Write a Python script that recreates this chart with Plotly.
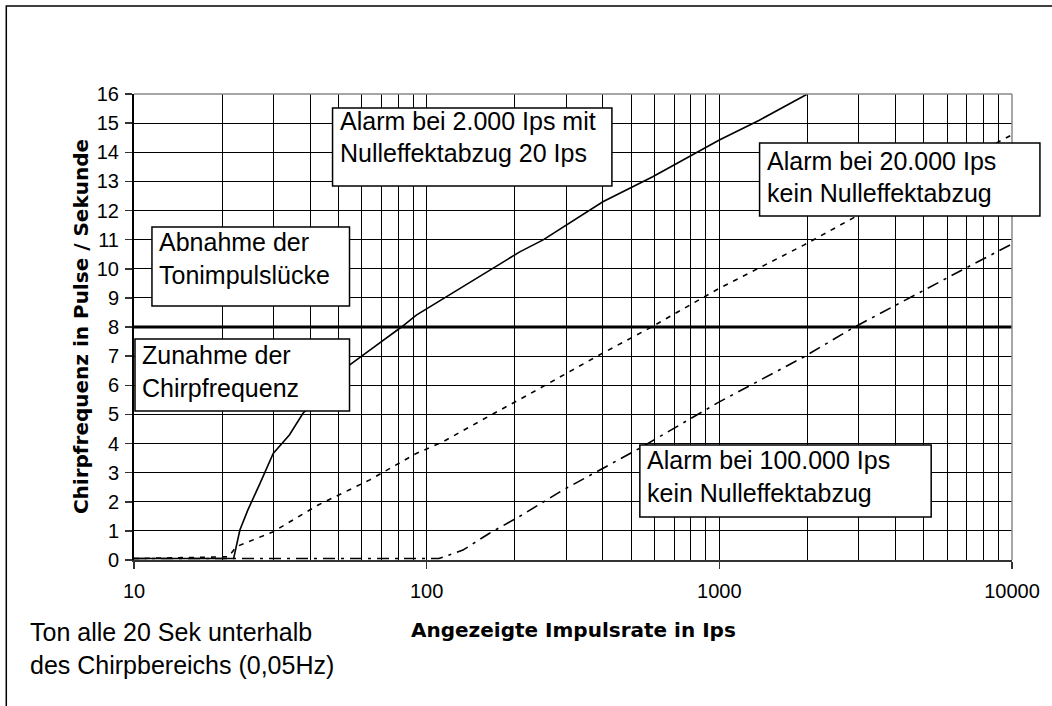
import plotly.graph_objects as go

# ---------------- data ----------------
x_tick_vals = [10, 100, 1000, 10000]
x_tick_text = ["10", "100", "1000", "10000"]
x_minor_vals = [m * d for d in (10, 100, 1000) for m in range(2, 10)]
y_tick_vals = list(range(0, 17))

rate_2000 = [10, 21.9, 23.0, 24.5, 27, 29.9, 34, 37.8, 45, 54.6, 65, 82, 92.2,
             110, 150, 208, 250, 300, 400, 592, 811, 1000, 1370, 2000]
chirp_2000 = [0.05, 0.05, 1.03, 1.72, 2.65, 3.66, 4.3, 5.04, 5.82, 6.7, 7.26, 8.0, 8.41,
              8.88, 9.7, 10.58, 10.99, 11.5, 12.3, 13.16, 13.9, 14.42, 15.1, 16.0]

rate_20000 = [10, 21, 22.4, 29.9, 42.6, 63.9, 92.2, 113.7, 166, 222, 389, 577,
              1000, 1950, 2850, 4000, 6000, 9030, 10000]
chirp_20000 = [0.05, 0.11, 0.46, 0.97, 1.89, 2.75, 3.66, 4.06, 4.98, 5.67, 7.04, 7.96,
               9.33, 10.82, 11.73, 12.5, 13.43, 14.36, 14.6]

rate_100000 = [10, 110, 133, 164, 208, 292, 533, 1000, 1950, 2850, 6760, 9640, 10000]
chirp_100000 = [0.05, 0.05, 0.34, 0.92, 1.5, 2.4, 3.83, 5.43, 6.98, 7.96, 9.96, 10.76, 10.85]

threshold_rate = [10, 10000]
threshold_chirp = [8, 8]

# ---------------- layout geometry ----------------
W, H = 1052, 706
L, R, T, B = 134, 1014, 94, 560
PW, PH = R - L, B - T


def px(x):
    return (x - L) / PW


def py(y):
    return (B - y) / PH


FONT = "Liberation Sans, Arial, sans-serif"
BOLD = "DejaVu Sans, Liberation Sans, Arial, sans-serif"

fig = go.Figure()
fig.add_trace(go.Scatter(x=threshold_rate, y=threshold_chirp, mode="lines",
                         line=dict(color="black", width=3), showlegend=False))
fig.add_trace(go.Scatter(x=rate_100000, y=chirp_100000, mode="lines",
                         line=dict(color="black", width=1.6, dash="12px,6px,3px,6px"),
                         showlegend=False))
fig.add_trace(go.Scatter(x=rate_20000, y=chirp_20000, mode="lines",
                         line=dict(color="black", width=1.6, dash="5px,6px"),
                         showlegend=False))
fig.add_trace(go.Scatter(x=rate_2000, y=chirp_2000, mode="lines",
                         line=dict(color="black", width=1.6), showlegend=False))

shapes = []
# outer frame
shapes.append(dict(type="rect", xref="paper", yref="paper",
                   x0=px(6), x1=px(1100), y0=py(760), y1=py(6),
                   line=dict(color="black", width=1.5), layer="below"))
# grey plot-area border (top/right)
shapes.append(dict(type="line", xref="paper", yref="paper", x0=0, x1=1, y0=1, y1=1,
                   line=dict(color="#888888", width=1.5), layer="above"))
shapes.append(dict(type="line", xref="paper", yref="paper", x0=1, x1=1, y0=0, y1=1,
                   line=dict(color="#888888", width=1.5), layer="above"))

boxes = [
    # (left, top, right, bottom, text_left, [(line, center_y), ...])
    (333, 108, 613, 186, 338, [("Alarm bei 2.000 Ips mit", 121), ("Nulleffektabzug 20 Ips", 153)]),
    (761, 143, 1042, 216, 766, [("Alarm bei 20.000 Ips", 161), ("kein Nulleffektabzug", 193)]),
    (641, 445, 933, 517, 646, [("Alarm bei 100.000 Ips", 459.5), ("kein Nulleffektabzug", 493)]),
    (152, 227, 350, 306, 157, [("Abnahme der", 242), ("Tonimpulslücke", 274.5)]),
    (135, 339, 350, 411, 140, [("Zunahme der", 354.5), ("Chirpfrequenz", 388)]),
]

annotations = []
for (x0, y0, x1, y1, tx, lines) in boxes:
    shapes.append(dict(type="rect", xref="paper", yref="paper",
                       x0=px(x0), x1=px(x1), y0=py(y1), y1=py(y0),
                       fillcolor="white", line=dict(color="black", width=1.5),
                       layer="above"))
    for text, cy in lines:
        annotations.append(dict(text=text, xref="paper", yref="paper",
                                x=px(tx), y=py(cy), xanchor="left", yanchor="middle",
                                showarrow=False, font=dict(family=FONT, size=25, color="black")))

for text, cy in [("Ton alle 20 Sek unterhalb", 632), ("des Chirpbereichs (0,05Hz)", 665)]:
    annotations.append(dict(text=text, xref="paper", yref="paper",
                            x=px(28), y=py(cy), xanchor="left", yanchor="middle",
                            showarrow=False, font=dict(family=FONT, size=25, color="black")))

annotations.append(dict(text="<b>Angezeigte Impulsrate in Ips</b>", xref="paper", yref="paper",
                        x=px(575), y=py(630), xanchor="center", yanchor="middle",
                        showarrow=False, font=dict(family=BOLD, size=20, color="black")))
annotations.append(dict(text="<b>Chirpfrequenz in Pulse / Sekunde</b>", xref="paper", yref="paper",
                        x=px(81), y=py(327), xanchor="center", yanchor="middle", textangle=-90,
                        showarrow=False, font=dict(family=BOLD, size=20, color="black")))

fig.update_layout(
    width=W, height=H, autosize=False,
    margin=dict(l=L, r=W - R, t=T, b=H - B, pad=0),
    paper_bgcolor="white", plot_bgcolor="white",
    shapes=shapes, annotations=annotations,
    font=dict(family=FONT, color="black"),
)
fig.update_xaxes(type="log", range=[1, 4], tickmode="array",
                 tickvals=x_tick_vals, ticktext=x_tick_text,
                 ticks="outside", ticklen=7, tickwidth=1.5, tickcolor="#333333",
                 showgrid=True, gridcolor="black", gridwidth=1,
                 minor=dict(tickmode="array", tickvals=x_minor_vals, showgrid=True,
                            gridcolor="black", gridwidth=1, ticks=""),
                 showline=True, linecolor="#333333", linewidth=2,
                 tickfont=dict(family=FONT, size=20, color="black"),
                 ticklabelstandoff=5, zeroline=False)
fig.update_yaxes(range=[0, 16], tickmode="array", tickvals=y_tick_vals,
                 ticks="outside", ticklen=7, tickwidth=1.5, tickcolor="#333333",
                 showgrid=True, gridcolor="black", gridwidth=1,
                 showline=True, linecolor="black", linewidth=2,
                 tickfont=dict(family=FONT, size=20, color="black"),
                 ticklabelstandoff=2, zeroline=False)

fig.write_html("out.html",
               config={"displayModeBar": False, "staticPlot": True},
               post_script="document.body.style.margin='0px';document.body.style.padding='0px';")
